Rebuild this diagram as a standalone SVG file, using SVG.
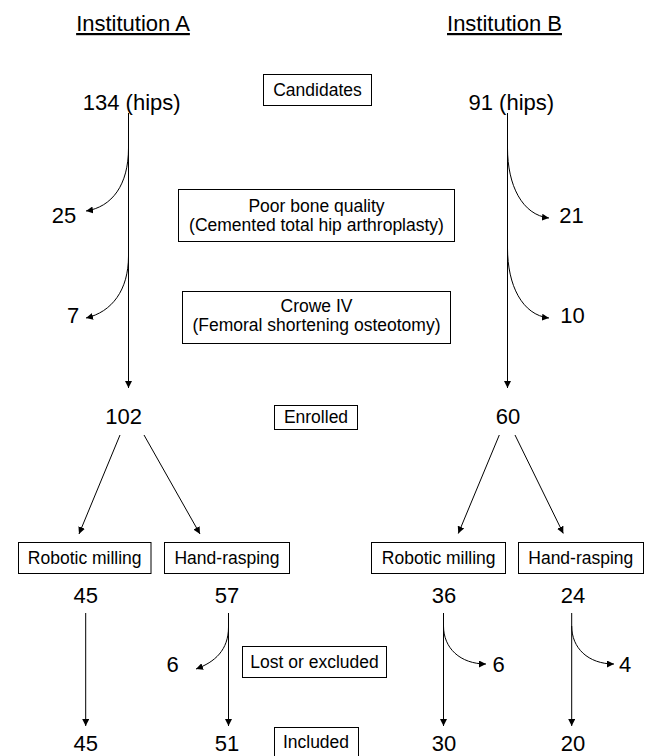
<svg xmlns="http://www.w3.org/2000/svg" width="646" height="756" viewBox="0 0 646 756">
<style>
text { font-family: "Liberation Sans", Arial, sans-serif; fill: #000; text-anchor: middle; }
.big { font-size: 22px; }
.lbl { font-size: 17.5px; }
.hdr { font-size: 22px; text-decoration: underline; }
.box { fill: #fff; stroke: #000; stroke-width: 1; }
.con { fill: none; stroke: #000; stroke-width: 1; }
</style>
<defs>
<marker id="ah" viewBox="0 0 10 10" refX="10" refY="5" markerWidth="7" markerHeight="7" markerUnits="userSpaceOnUse" orient="auto">
<path d="M0,0 L10,5 L0,10 z" fill="#000"/>
</marker>
</defs>
<rect width="646" height="756" fill="#fff"/>

<g id="headers">
<text class="hdr" x="133" y="31">Institution A</text>
<text class="hdr" x="504.5" y="31">Institution B</text>
</g>

<g id="stage-labels">
<g id="candidates"><rect class="box" x="263.5" y="74.5" width="108" height="31"/><text class="lbl" x="317.5" y="96">Candidates</text></g>
<g id="poor-bone"><rect class="box" x="178.5" y="189.5" width="276" height="52"/><text class="lbl" x="316.5" y="212">Poor bone quality</text><text class="lbl" x="316.5" y="231">(Cemented total hip arthroplasty)</text></g>
<g id="crowe"><rect class="box" x="182.5" y="291.5" width="268" height="52"/><text class="lbl" x="316.5" y="312">Crowe IV</text><text class="lbl" x="316.5" y="331">(Femoral shortening osteotomy)</text></g>
<g id="enrolled"><rect class="box" x="274.5" y="405.5" width="83" height="24"/><text class="lbl" x="316" y="423">Enrolled</text></g>
<g id="lost"><rect class="box" x="242.5" y="646.5" width="144" height="31"/><text class="lbl" x="314.5" y="668">Lost or excluded</text></g>
<g id="included"><rect class="box" x="274.5" y="727.5" width="84" height="30"/><text class="lbl" x="316" y="748">Included</text></g>
</g>

<g id="inst-a">
<g id="a-cand"><text class="big" x="131.7" y="110">134 (hips)</text></g>
<g id="a-ex1"><text class="big" x="64" y="223">25</text></g>
<g id="a-ex2"><text class="big" x="73" y="323">7</text></g>
<g id="a-enr"><text class="big" x="123.7" y="424">102</text></g>
<g id="a-rob"><rect class="box" x="18.5" y="542.5" width="132.5" height="31"/><text class="lbl" x="84.7" y="564">Robotic milling</text></g>
<g id="a-hand"><rect class="box" x="164.5" y="542.5" width="125" height="31"/><text class="lbl" x="227" y="564">Hand-rasping</text></g>
<g id="a-rob-n"><text class="big" x="85.8" y="603">45</text></g>
<g id="a-hand-n"><text class="big" x="227" y="603">57</text></g>
<g id="a-lost"><text class="big" x="172.5" y="672">6</text></g>
<g id="a-rob-inc"><text class="big" x="85.8" y="751">45</text></g>
<g id="a-hand-inc"><text class="big" x="227" y="751">51</text></g>
</g>

<g id="inst-b">
<g id="b-cand"><text class="big" x="511.3" y="110">91 (hips)</text></g>
<g id="b-ex1"><text class="big" x="571.5" y="223">21</text></g>
<g id="b-ex2"><text class="big" x="572.5" y="323">10</text></g>
<g id="b-enr"><text class="big" x="508" y="424">60</text></g>
<g id="b-rob"><rect class="box" x="371.5" y="542.5" width="134" height="31"/><text class="lbl" x="438.7" y="564">Robotic milling</text></g>
<g id="b-hand"><rect class="box" x="518.5" y="542.5" width="125" height="31"/><text class="lbl" x="580.8" y="564">Hand-rasping</text></g>
<g id="b-rob-n"><text class="big" x="444" y="603">36</text></g>
<g id="b-hand-n"><text class="big" x="573" y="603">24</text></g>
<g id="b-lost1"><text class="big" x="498.5" y="672">6</text></g>
<g id="b-lost2"><text class="big" x="625" y="672">4</text></g>
<g id="b-rob-inc"><text class="big" x="444" y="751">30</text></g>
<g id="b-hand-inc"><text class="big" x="573" y="751">20</text></g>
</g>

<g id="connectors">
<path class="con" d="M128.5,113 V388" marker-end="url(#ah)"/>
<path class="con" d="M128.5,148 C128.5,185 112,207 86,211" marker-end="url(#ah)"/>
<path class="con" d="M128.5,256 C128.5,290 112,312 86,318" marker-end="url(#ah)"/>
<path class="con" d="M507.5,113 V388" marker-end="url(#ah)"/>
<path class="con" d="M507.5,148 C507.5,185 522,215 549,218" marker-end="url(#ah)"/>
<path class="con" d="M507.5,248 C507.5,285 522,315 549,318" marker-end="url(#ah)"/>
<path class="con" d="M120,435 L79,534" marker-end="url(#ah)"/>
<path class="con" d="M144,435 L200,534" marker-end="url(#ah)"/>
<path class="con" d="M499.3,435 L458.3,533.5" marker-end="url(#ah)"/>
<path class="con" d="M515,435 L563.3,533.5" marker-end="url(#ah)"/>
<path class="con" d="M85.7,613 V726" marker-end="url(#ah)"/>
<path class="con" d="M228.5,613 V726" marker-end="url(#ah)"/>
<path class="con" d="M228.5,627 C228.5,650 215,662 196,669" marker-end="url(#ah)"/>
<path class="con" d="M443.5,613 V726" marker-end="url(#ah)"/>
<path class="con" d="M443.5,626 C443.5,648 460,664 486,664" marker-end="url(#ah)"/>
<path class="con" d="M571.7,613 V726" marker-end="url(#ah)"/>
<path class="con" d="M571.7,626 C571.7,648 588,664 614,664" marker-end="url(#ah)"/>
</g>
</svg>
